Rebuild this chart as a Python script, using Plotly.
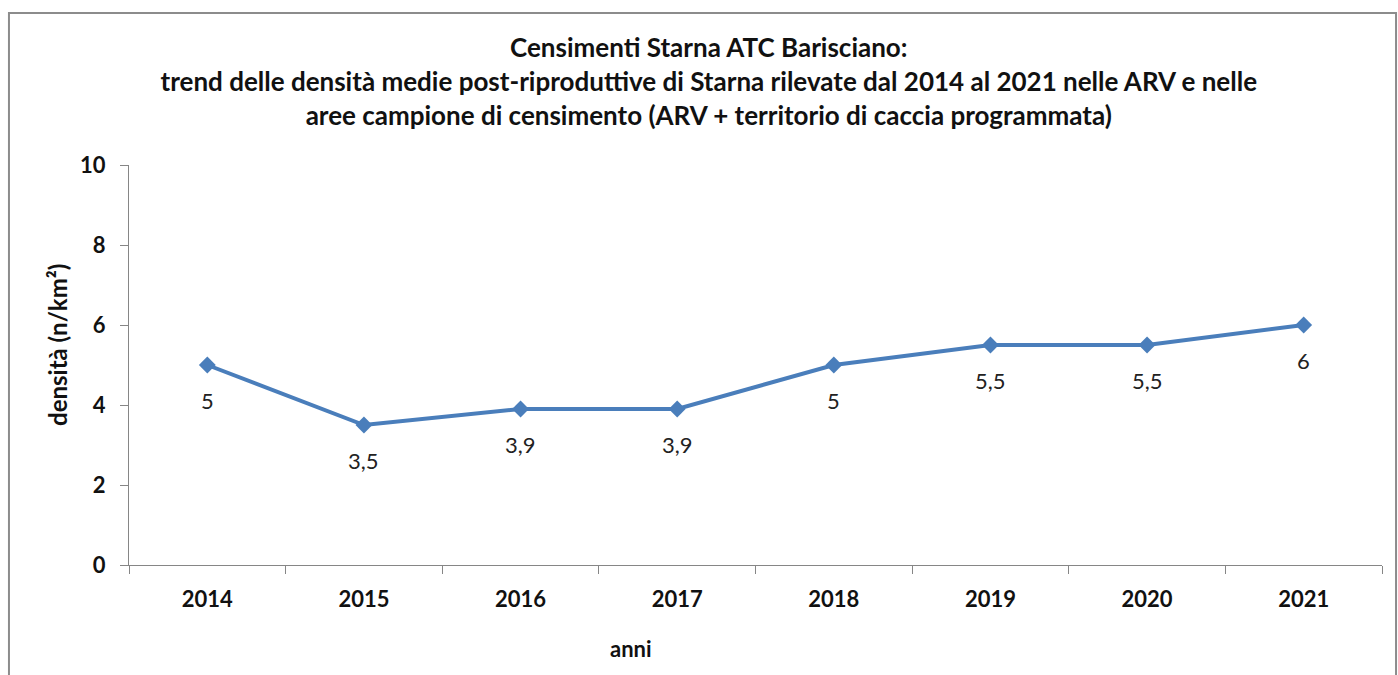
import plotly.graph_objects as go

anni = ["2014", "2015", "2016", "2017", "2018", "2019", "2020", "2021"]
densita = [5, 3.5, 3.9, 3.9, 5, 5.5, 5.5, 6]
etichette = ["5", "3,5", "3,9", "3,9", "5", "5,5", "5,5", "6"]
y_ticks = [0, 2, 4, 6, 8, 10]

FONT = "Lato"
LINE_COLOR = "#4A7EBB"
AXIS_COLOR = "#868686"

fig = go.Figure()
fig.add_trace(go.Scatter(
    x=anni, y=densita, mode="lines+markers",
    line=dict(color=LINE_COLOR, width=4),
    marker=dict(symbol="diamond", size=13, color=LINE_COLOR),
    showlegend=False, hoverinfo="skip",
))

# data labels below each point (category index on the category axis)
for i, (v, t) in enumerate(zip(densita, etichette)):
    fig.add_annotation(x=i, y=v, xref="x", yref="y", text=t, showarrow=False,
                       yshift=-35,
                       font=dict(family=FONT, size=22, color="#222222"))

# x axis title (placed left of centre as in the original)
fig.add_annotation(text="<b>anni</b>", x=0.401, y=-0.2075, xref="paper", yref="paper",
                   xanchor="center", yanchor="middle", showarrow=False,
                   font=dict(family=FONT, size=22, color="#111111"))

# y axis title
fig.add_annotation(text="<b>densità (n/km²)</b>", x=-0.0575, y=0.55,
                   xref="paper", yref="paper", xanchor="center", yanchor="middle",
                   textangle=-90, showarrow=False,
                   font=dict(family=FONT, size=24, color="#111111"))

fig.add_shape(type="rect", xref="paper", yref="paper",
              x0=-0.0958, x1=1.0112, y0=-0.30, y1=1.38,
              line=dict(color="#8C8C8C", width=2), fillcolor="rgba(0,0,0,0)")

fig.update_layout(
    width=1398, height=675,
    margin=dict(l=129, r=16, t=165, b=110),
    paper_bgcolor="white", plot_bgcolor="white",
    font=dict(family=FONT, color="#111111"),
    title=dict(
        text="<b>Censimenti Starna ATC Barisciano:<br>"
             "trend delle densità medie post-riproduttive di Starna rilevate dal 2014 al 2021 nelle ARV e nelle<br>"
             "aree campione di censimento (ARV + territorio di caccia programmata)</b>",
        x=0.507, xanchor="center", y=1 - 57 / 675, yanchor="top",
        font=dict(family=FONT, size=26, color="#111111"),
    ),
    xaxis=dict(
        type="category", range=[-0.5, 7.5], tickson="boundaries",
        showline=True, linecolor=AXIS_COLOR, linewidth=1,
        ticks="outside", ticklen=8, tickcolor=AXIS_COLOR,
        showgrid=False, zeroline=False,
        tickfont=dict(family=FONT, size=22, color="#111111", weight="bold"),
        ticklabelstandoff=15,
    ),
    yaxis=dict(
        range=[0, 10], tickvals=y_ticks,
        showline=True, linecolor=AXIS_COLOR, linewidth=1,
        ticks="outside", ticklen=8, tickcolor=AXIS_COLOR,
        showgrid=False, zeroline=False,
        tickfont=dict(family=FONT, size=22, color="#111111", weight="bold"),
        ticklabelstandoff=10,
    ),
)

fig.write_html("out.html", config={"displayModeBar": False},
               post_script="document.body.style.margin='0';")
